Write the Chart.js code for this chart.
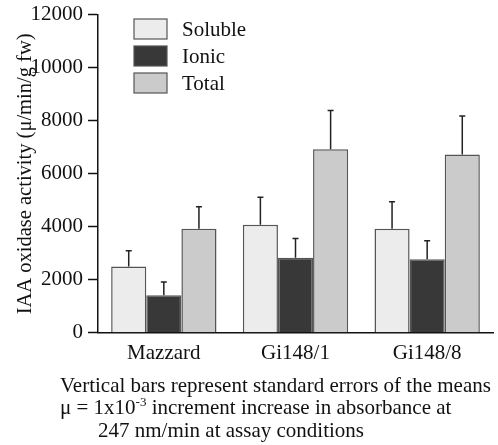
<!DOCTYPE html>
<html>
<head>
<meta charset="utf-8">
<script src="https://cdn.jsdelivr.net/npm/chart.js@4"></script>
<style>
  body { margin: 0; background: #fff; }
  #wrap { position: relative; width: 498px; height: 445px; }
  #box { position: absolute; left: 0; top: 0; width: 498px; height: 377px; }
  .note { position: absolute; font-family: "Liberation Serif", serif; font-size: 21px; line-height: 24px; color: #111; white-space: nowrap; }
  .note sup { font-size: 13px; line-height: 0; }
</style>
</head>
<body>
<div id="wrap">
  <div id="box"><canvas id="chart"></canvas></div>
  <div class="note" style="left:60px; top:373px;">Vertical bars represent standard errors of the means</div>
  <div class="note" style="left:60px; top:395px;">&mu; = 1x10<sup>-3</sup> increment increase in absorbance at</div>
  <div class="note" style="left:98px; top:418px;">247 nm/min at assay conditions</div>
</div>
<script>
// chart data
var cultivars = ['Mazzard', 'Gi148/1', 'Gi148/8'];
var seriesNames = ['Soluble', 'Ionic', 'Total'];
var soluble = [2500, 4080, 3930];
var ionic = [1420, 2830, 2780];
var total = [3930, 6930, 6730];
var solubleErr = [600, 1040, 1020];
var ionicErr = [500, 730, 700];
var totalErr = [830, 1460, 1460];
var yTicks = [0, 2000, 4000, 6000, 8000, 10000, 12000];

var fills = ['#ececec', '#383838', '#cbcbcb'];
var serif = '"Liberation Serif", "Times New Roman", serif';

// one-sided (upper) error bars
var errorBars = {
  id: 'errorBars',
  afterDatasetsDraw: function(chart) {
    var ctx = chart.ctx;
    var y = chart.scales.y;
    ctx.save();
    ctx.strokeStyle = '#222';
    ctx.lineWidth = 1.5;
    chart.data.datasets.forEach(function(ds, i) {
      var meta = chart.getDatasetMeta(i);
      meta.data.forEach(function(bar, j) {
        var top = y.getPixelForValue(ds.data[j] + ds.err[j]);
        ctx.beginPath();
        ctx.moveTo(bar.x, bar.y);
        ctx.lineTo(bar.x, top);
        ctx.moveTo(bar.x - 3, top);
        ctx.lineTo(bar.x + 3, top);
        ctx.stroke();
      });
    });
    ctx.restore();
  }
};

// legend box in upper left of plot
var boxLegend = {
  id: 'boxLegend',
  afterDraw: function(chart) {
    var ctx = chart.ctx;
    ctx.save();
    ctx.font = '21px ' + serif;
    ctx.textBaseline = 'middle';
    chart.data.datasets.forEach(function(ds, i) {
      var yy = 19 + i * 27;
      ctx.fillStyle = ds.backgroundColor;
      ctx.fillRect(134, yy, 33, 20);
      ctx.strokeStyle = '#555';
      ctx.lineWidth = 1.2;
      ctx.strokeRect(134, yy, 33, 20);
      ctx.fillStyle = '#111';
      ctx.fillText(ds.label, 182, yy + 11);
    });
    ctx.restore();
  }
};

var data = {
  labels: cultivars,
  datasets: [
    { label: seriesNames[0], data: soluble, err: solubleErr, backgroundColor: fills[0] },
    { label: seriesNames[1], data: ionic, err: ionicErr, backgroundColor: fills[1] },
    { label: seriesNames[2], data: total, err: totalErr, backgroundColor: fills[2] }
  ]
};
data.datasets.forEach(function(ds) {
  ds.borderColor = '#555';
  ds.borderWidth = 1.5;
  ds.barPercentage = 1.0;
  ds.categoryPercentage = 0.8;
});

new Chart(document.getElementById('chart'), {
  type: 'bar',
  data: data,
  options: {
    responsive: true,
    maintainAspectRatio: false,
    animation: false,
    layout: { padding: { top: 0, right: 5, left: 0, bottom: 3 } },
    plugins: { legend: { display: false }, tooltip: { enabled: false } },
    scales: {
      x: {
        grid: { display: false, drawTicks: false },
        border: { color: '#111', width: 1.5 },
        ticks: { color: '#111', padding: 8, font: { family: serif, size: 21 } }
      },
      y: {
        min: 0,
        max: 12000,
        afterBuildTicks: function(axis) { axis.ticks = yTicks.map(function(v) { return { value: v }; }); },
        afterFit: function(axis) { axis.width = 98; },
        grid: { drawOnChartArea: false, drawTicks: true, tickLength: 10, tickColor: '#111', tickWidth: 1.5 },
        border: { color: '#111', width: 1.5 },
        ticks: {
          color: '#111', padding: 5, font: { family: serif, size: 21, lineHeight: 0.95 },
          callback: function(v) { return String(v); }
        },
        title: {
          display: true,
          text: 'IAA oxidase activity (\u03bc/min/g fw)',
          color: '#111',
          padding: { top: 13, bottom: 0 },
          font: { family: serif, size: 20.5 }
        }
      }
    }
  },
  plugins: [errorBars, boxLegend]
});
</script>
</body>
</html>
